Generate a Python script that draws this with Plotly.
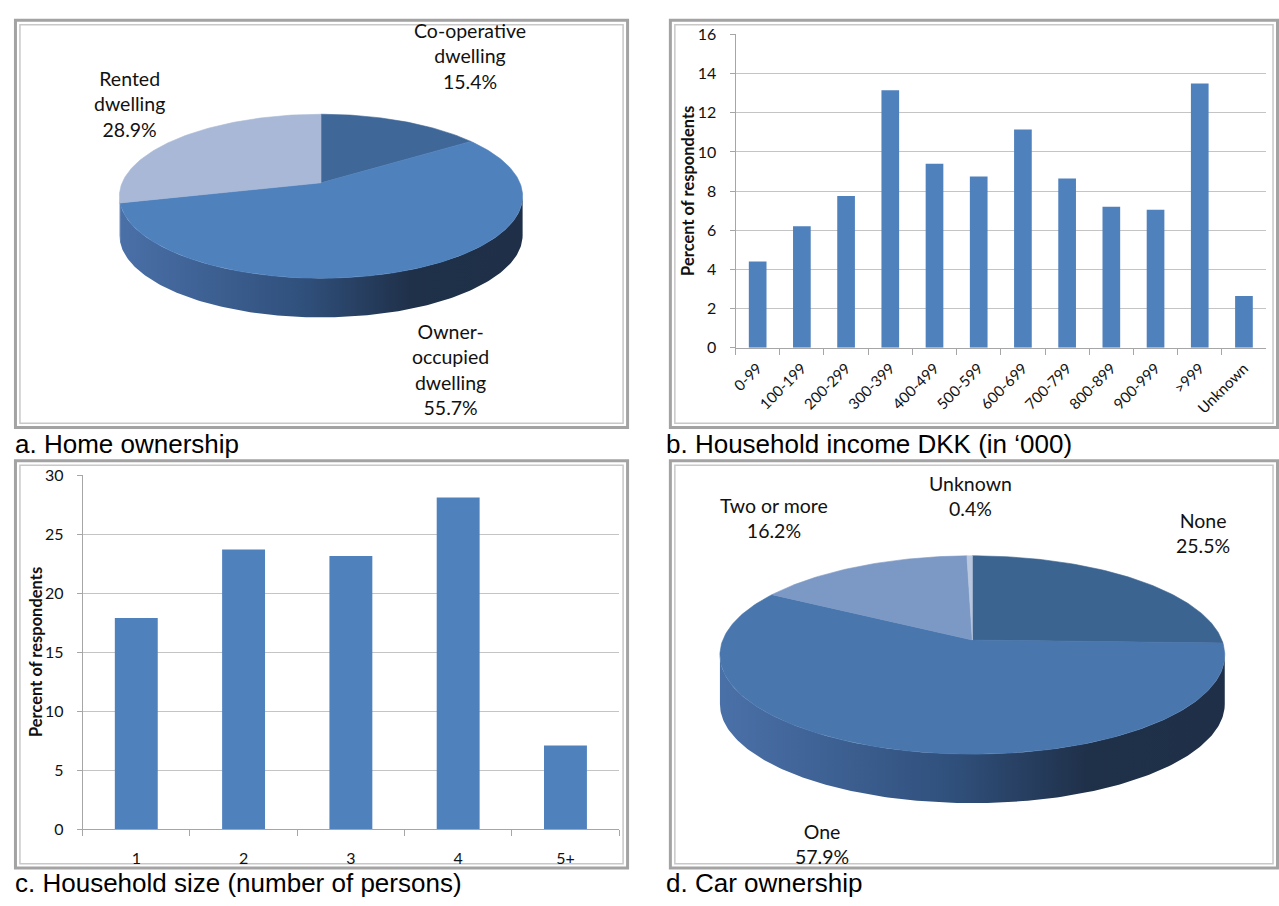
import numpy as np
import plotly.graph_objects as go

W, H = 1279, 906

# ---- data ----
home_labels = ["Co-operative<br>dwelling", "Owner-<br>occupied<br>dwelling", "Rented<br>dwelling"]
home_pct = [15.4, 55.7, 28.9]

income_labels = ["0-99", "100-199", "200-299", "300-399", "400-499", "500-599",
                 "600-699", "700-799", "800-899", "900-999", ">999", "Unknown"]
income_pct = [4.4, 6.2, 7.75, 13.15, 9.4, 8.75, 11.15, 8.65, 7.2, 7.05, 13.5, 2.65]

size_labels = ["1", "2", "3", "4", "5+"]
size_pct = [17.9, 23.7, 23.15, 28.1, 7.1]

car_labels = ["None", "One", "Two or more", "Unknown"]
car_pct = [25.5, 57.9, 16.2, 0.4]

captions = ["a. Home ownership", "b. Household income DKK (in \u2018000)",
            "c. Household size (number of persons)", "d. Car ownership"]

# ---- styling ----
BAR = "#4f81bd"
GRID = "#c4c4c4"
AXIS = "#a6a6a6"
LABEL_FONT = "Lato"
CAPTION_FONT = "Liberation Sans"


def px(x):
    return x / W


def py(y):
    return 1 - y / H


fig = go.Figure()

# ---- 3D pies drawn on a pixel-space overlay axis (x3/y3) ----
def add_pie3d(values, colors, side_scales, cx, cy, rx, ry, persp, depth, n=360):
    total = float(sum(values))
    two_pi = 2 * np.pi

    def rim(t):
        u, v = np.sin(t), np.cos(t)
        s = 1.0 / (1.0 + persp * v)
        return cx + rx * u * s, cy - ry * v * s

    bounds = []
    start = 0.0
    for val in values:
        end = start + val / total * two_pi
        bounds.append((start, end))
        start = end

    t_right = np.arccos(-persp)
    t_left = two_pi - t_right
    half_w = rx / np.sqrt(1 - persp ** 2)

    # side wall of the visible front half
    for (t0, t1), scale in zip(bounds, side_scales):
        a0, a1 = max(t0, t_right), min(t1, t_left)
        if a1 <= a0:
            continue
        ts = np.linspace(a0, a1, max(3, int(n * (a1 - a0) / two_pi) + 3))
        xs, ys = rim(ts)
        X = np.concatenate([xs, xs[::-1], xs[:1]])
        Y = np.concatenate([ys, ys[::-1] + depth, ys[:1]])
        fig.add_trace(go.Scatter(
            x=X, y=Y, xaxis="x3", yaxis="y3", mode="lines", fill="toself",
            line=dict(width=0),
            fillgradient=dict(type="horizontal", colorscale=scale,
                              start=cx - half_w, stop=cx + half_w),
            hoverinfo="skip", showlegend=False))

    # top face slices
    for (t0, t1), col in zip(bounds, colors):
        ts = np.linspace(t0, t1, max(3, int(n * (t1 - t0) / two_pi) + 3))
        xs, ys = rim(ts)
        X = np.concatenate([[cx], xs, [cx]])
        Y = np.concatenate([[cy], ys, [cy]])
        fig.add_trace(go.Scatter(
            x=X, y=Y, xaxis="x3", yaxis="y3", mode="lines", fill="toself",
            fillcolor=col, line=dict(width=0.6, color=col),
            hoverinfo="skip", showlegend=False))


dark_side = [[0, "#4a70a8"], [0.45, "#30507c"], [0.72, "#1f3049"], [1, "#1e2f47"]]
light_side = [[0, "#8d9fc0"], [1, "#6f84a8"]]
pale_side = [[0, "#9fb0cf"], [1, "#8094b5"]]

add_pie3d(home_pct, ["#3f6797", "#4f81bd", "#a8b8d6"],
          [dark_side, dark_side, light_side],
          cx=316.5, cy=176.5, rx=199.8, ry=81.5, persp=0.164, depth=40)

add_pie3d(car_pct, ["#3c6491", "#4876ad", "#7c98c4", "#b9c7df"],
          [dark_side, dark_side, light_side, pale_side],
          cx=970.9, cy=643.5, rx=250.7, ry=99.0, persp=0.151, depth=50)

# ---- bar charts ----
fig.add_trace(go.Bar(x=income_labels, y=income_pct, marker=dict(color=BAR, line=dict(width=0)),
                     xaxis="x", yaxis="y", showlegend=False, hoverinfo="skip"))
fig.add_trace(go.Bar(x=size_labels, y=size_pct, marker=dict(color=BAR, line=dict(width=0)),
                     xaxis="x2", yaxis="y2", showlegend=False, hoverinfo="skip"))

ytick_font = dict(family=LABEL_FONT, size=16, color="#111111")
xcommon = dict(type="category", showline=True, linecolor=AXIS, linewidth=1,
               ticks="outside", tickson="boundaries", ticklen=6, tickcolor=AXIS,
               showgrid=False, zeroline=False, fixedrange=True)
ycommon = dict(showline=True, linecolor=AXIS, linewidth=1, ticks="outside", ticklen=5,
               tickcolor=AXIS, showgrid=True, gridcolor=GRID, gridwidth=1,
               zeroline=False, tickfont=ytick_font, ticklabelstandoff=10, fixedrange=True)

fig.update_layout(
    width=W, height=H,
    margin=dict(l=0, r=0, t=0, b=0),
    paper_bgcolor="white", plot_bgcolor="rgba(0,0,0,0)",
    bargap=0.6,
    showlegend=False,
    xaxis=dict(domain=[px(733), px(1266)], anchor="y", tickangle=-45, ticklabelstandoff=5,
               tickfont=dict(family=LABEL_FONT, size=15, color="#111111"), **xcommon),
    yaxis=dict(domain=[py(345), py(25)], anchor="x", range=[0, 16], dtick=2, **ycommon),
    xaxis2=dict(domain=[px(77), px(616)], anchor="y2", tickangle=0, ticklabelstandoff=14,
                tickfont=dict(family=LABEL_FONT, size=16, color="#111111"), **xcommon),
    yaxis2=dict(domain=[py(837), py(475)], anchor="x2", range=[0, 30], dtick=5, **ycommon),
    xaxis3=dict(domain=[0, 1], anchor="y3", range=[0, W], visible=False, fixedrange=True),
    yaxis3=dict(domain=[0, 1], anchor="x3", range=[H, 0], visible=False, fixedrange=True),
)

# ---- panel frames (double grey border) ----
panels = [(8, 9, 626, 428), (666, 9, 1279, 428), (8, 459, 626, 878), (666, 459, 1279, 878)]
shapes = []
for x0, y0, x1, y1 in panels:
    shapes.append(dict(type="rect", xref="paper", yref="paper", layer="below",
                       x0=px(x0 + 1.5), x1=px(x1 - 1.5), y0=py(y0 + 1.5), y1=py(y1 - 1.5),
                       line=dict(color="#a3a3a3", width=3), fillcolor="rgba(0,0,0,0)"))
    shapes.append(dict(type="rect", xref="paper", yref="paper", layer="below",
                       x0=px(x0 + 6), x1=px(x1 - 6), y0=py(y0 + 6), y1=py(y1 - 6),
                       line=dict(color="#c8c8c8", width=1.5), fillcolor="rgba(0,0,0,0)"))
fig.update_layout(shapes=shapes)

# ---- text ----
annotations = []
lab_font = dict(family=LABEL_FONT, size=19.5, color="#111111")

def pie_label(text, pct, x, y):
    annotations.append(dict(text=f"{text}<br>{pct:.1f}%", x=px(x), y=py(y), xref="paper",
                            yref="paper", showarrow=False, xanchor="center", yanchor="middle",
                            align="center", font=lab_font))

pie_label(home_labels[0], home_pct[0], 466, 47)
pie_label(home_labels[1], home_pct[1], 447, 367)
pie_label(home_labels[2], home_pct[2], 124, 96)

pie_label(car_labels[0], car_pct[0], 1203, 534)
pie_label(car_labels[1], car_pct[1], 820, 852)
pie_label(car_labels[2], car_pct[2], 772, 519)
pie_label(car_labels[3], car_pct[3], 969, 496)

for (x, y), cap in zip([(7, 443), (661, 443), (7, 892), (661, 892)], captions):
    annotations.append(dict(text=cap, x=px(x), y=py(y), xref="paper", yref="paper",
                            showarrow=False, xanchor="left", yanchor="middle",
                            font=dict(family=CAPTION_FONT, size=26, color="#000000")))

for x, y in [(685, 185), (30, 656)]:
    annotations.append(dict(text="<b>Percent of respondents</b>", x=px(x), y=py(y),
                            xref="paper", yref="paper", showarrow=False, textangle=-90,
                            xanchor="center", yanchor="middle",
                            font=dict(family=LABEL_FONT, size=16.5, color="#111111")))

fig.update_layout(annotations=annotations)

fig.write_html("out.html")
